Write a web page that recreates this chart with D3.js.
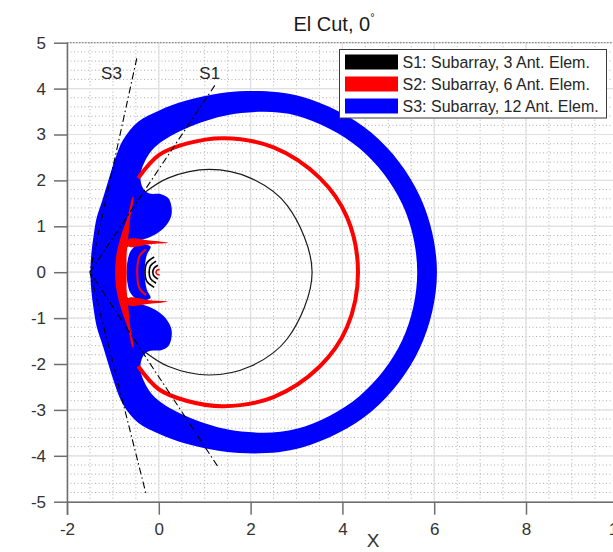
<!DOCTYPE html>
<html>
<head>
<meta charset="utf-8">
<script src="https://cdn.jsdelivr.net/npm/d3@7"></script>
<style>
  html, body { margin: 0; padding: 0; background: #fff; }
  svg { display: block; font-family: "Liberation Sans", Arial, Helvetica, sans-serif; }
</style>
</head>
<body>
<svg id="chart" width="613" height="552"></svg>
<script>
// ---- axis ticks and labels ----
const xTickValues = [-2, 0, 2, 4, 6, 8, 10];
const yTickValues = [-5, -4, -3, -2, -1, 0, 1, 2, 3, 4, 5];
const titleText = "El Cut, 0";
const xLabelText = "X";

// ---- series ----
const seriesNames = ["S1: Subarray, 3 Ant. Elem.", "S2: Subarray, 6 Ant. Elem.", "S3: Subarray, 12 Ant. Elem."];
const seriesColors = ["#000000", "#ff0000", "#0000ff"];

// S3 (12 elements): outer edge of the filled pattern band
const s3Outer = [[6.06,0],[5.68,1.67],[4.64,3.03],[3.12,3.82],[1.76,3.94],[0.60,3.74],[0.0,3.52],[-0.45,3.28],
  [-0.78,2.88],[-0.96,2.44],[-1.10,2.00],[-1.23,1.57],[-1.35,1.20],[-1.42,0.80],[-1.47,0.40],[-1.49,0],
  [-1.47,-0.40],[-1.42,-0.80],[-1.35,-1.20],[-1.23,-1.57],[-1.10,-2.00],[-0.96,-2.44],[-0.78,-2.88],[-0.45,-3.28],
  [0.0,-3.52],[0.60,-3.74],[1.76,-3.94],[3.12,-3.82],[4.64,-3.03],[5.68,-1.67]];
// S3: inner edge of the band (open area inside the main lobe)
const s3Inner = [[5.63,0],[5.30,1.49],[4.37,2.70],[3.01,3.41],[1.80,3.47],[0.80,3.22],[0.0,2.80],[-0.26,2.50],
  [-0.40,2.12],[-0.35,1.84],[-0.22,1.72],[0.05,1.70],[0.20,1.62],[0.27,1.46],[0.27,1.22],[0.10,0.95],
  [-0.20,0.76],[-0.50,0.66],[-0.72,0.50],[-0.78,0],[-0.72,-0.50],[-0.50,-0.66],[-0.20,-0.76],[0.10,-0.95],
  [0.27,-1.22],[0.27,-1.46],[0.20,-1.62],[0.05,-1.70],[-0.22,-1.72],[-0.35,-1.84],[-0.40,-2.12],[-0.26,-2.50],
  [0.0,-2.80],[0.80,-3.22],[1.80,-3.47],[3.01,-3.41],[4.37,-2.70],[5.30,-1.49]];
// S3: inner side lobe between the S2 arms
const s3Lobe = [[-0.45,0.60],[-0.62,0.45],[-0.70,0],[-0.62,-0.45],[-0.45,-0.60],[-0.18,-0.56],[-0.26,-0.38],
  [-0.31,0],[-0.26,0.38],[-0.18,0.56]];

// S2 (6 elements)
const s2Main = [[-0.45,2.05],[0.0,2.55],[0.6,2.80],[1.42,2.92],[2.5,2.72],[3.5,2.06],[4.1,1.2],[4.34,0],
  [4.1,-1.2],[3.5,-2.06],[2.5,-2.72],[1.42,-2.92],[0.6,-2.80],[0.0,-2.55],[-0.45,-2.05]];
const s2Side = [[-0.57,1.64],[-0.68,1.20],[-0.82,0.80],[-0.92,0.40],[-0.95,0],[-0.92,-0.40],[-0.82,-0.80],
  [-0.68,-1.20],[-0.57,-1.64],[-0.55,-1.64],[-0.62,-1.20],[-0.66,-0.80],[-0.70,-0.40],[-0.70,0],[-0.70,0.40],
  [-0.66,0.80],[-0.62,1.20],[-0.55,1.64]];
const s2ArmUp = [[-0.66,0.72],[-0.20,0.69],[0.20,0.64],[-0.20,0.61],[-0.66,0.56]];
const s2ArmDown = [[-0.66,-0.72],[-0.20,-0.69],[0.20,-0.64],[-0.20,-0.61],[-0.66,-0.56]];
const s2Inner = [[-0.28,0.50],[-0.42,0.35],[-0.47,0],[-0.42,-0.35],[-0.28,-0.50]];
const s2Core = [[0.02,0.06],[-0.04,0.045],[-0.06,0],[-0.04,-0.045],[0.02,-0.06]];

// S1 (3 elements)
const s1Main = [[-0.30,1.74],[0.2,2.05],[1.1,2.24],[2.0,2.05],[2.8,1.45],[3.34,0],
  [2.8,-1.45],[2.0,-2.05],[1.1,-2.24],[0.2,-2.05],[-0.30,-1.74]];
const s1Arc1 = [[-0.10,0.33],[-0.26,0.20],[-0.30,0],[-0.26,-0.20],[-0.10,-0.33]];
const s1Arc2 = [[-0.06,0.24],[-0.18,0.14],[-0.21,0],[-0.18,-0.14],[-0.06,-0.24]];
const s1Arc3 = [[-0.02,0.15],[-0.10,0.09],[-0.13,0],[-0.10,-0.09],[-0.02,-0.15]];

// sector boundary lines (upper end, apex, lower end)
const s1Edges = [[1.22,4.07],[-1.5,0],[1.31,-4.27]];
const s3Edges = [[-0.48,4.66],[-1.5,0],[-0.27,-4.86]];
const edgeLabels = [{text:"S3", x:-1.03, y:4.32}, {text:"S1", x:1.11, y:4.32}];

// ---- layout ----
const svg = d3.select("#chart");
const x = d3.scaleLinear().domain([-2, 10]).range([67, 617.8]);
const y = d3.scaleLinear().domain([-5, 5]).range([501.7, 42.7]);
const pLeft = x(-2), pRight = 640, pTop = y(5), pBottom = y(-5);

svg.append("defs").append("clipPath").attr("id", "plotclip")
  .append("rect").attr("x", pLeft).attr("y", pTop).attr("width", pRight - pLeft).attr("height", pBottom - pTop);

// grid: minor dotted, major light solid
const grid = svg.append("g");
const xMinor = d3.range(-2, 12.01, 0.5), yMinor = d3.range(-5, 5.001, 0.2);
grid.selectAll(".xm").data(xMinor).join("line")
  .attr("x1", d => x(d)).attr("x2", d => x(d)).attr("y1", pTop).attr("y2", pBottom)
  .attr("stroke", "#adadad").attr("stroke-width", 1).attr("stroke-dasharray", "1,2.5");
grid.selectAll(".ym").data(yMinor).join("line")
  .attr("x1", pLeft).attr("x2", pRight).attr("y1", d => y(d)).attr("y2", d => y(d))
  .attr("stroke", "#adadad").attr("stroke-width", 1).attr("stroke-dasharray", "1,2.5");
grid.selectAll(".xM").data(d3.range(-2, 12.01, 2)).join("line")
  .attr("x1", d => x(d)).attr("x2", d => x(d)).attr("y1", pTop).attr("y2", pBottom)
  .attr("stroke", "#e0e0e0").attr("stroke-width", 1.2);
grid.selectAll(".yM").data(yTickValues).join("line")
  .attr("x1", pLeft).attr("x2", pRight).attr("y1", d => y(d)).attr("y2", d => y(d))
  .attr("stroke", "#e0e0e0").attr("stroke-width", 1.2);
// top edge
grid.append("line").attr("x1", pLeft).attr("x2", pRight).attr("y1", pTop).attr("y2", pTop)
  .attr("stroke", "#8a8a8a").attr("stroke-width", 1.2).attr("stroke-dasharray", "1.5,1.5");

// ---- pattern marks ----
const plot = svg.append("g").attr("clip-path", "url(#plotclip)");
const closed = d3.line().x(d => x(d[0])).y(d => y(d[1])).curve(d3.curveCatmullRomClosed.alpha(0.5));
const open = d3.line().x(d => x(d[0])).y(d => y(d[1])).curve(d3.curveCatmullRom.alpha(0.5));

// S3
plot.append("path").attr("d", closed(s3Outer) + closed(s3Inner))
  .attr("fill", seriesColors[2]).attr("fill-rule", "evenodd");
plot.append("path").attr("d", closed(s3Lobe)).attr("fill", seriesColors[2]);

// S2
plot.append("path").attr("d", open(s2Main)).attr("fill", "none").attr("stroke", seriesColors[1]).attr("stroke-width", 4);
[s2Side, s2ArmUp, s2ArmDown].forEach(p =>
  plot.append("path").attr("d", closed(p)).attr("fill", seriesColors[1]));
plot.append("path").attr("d", open(s2Inner)).attr("fill", "none").attr("stroke", seriesColors[1]).attr("stroke-width", 2);
plot.append("path").attr("d", open(s2Core)).attr("fill", "none").attr("stroke", seriesColors[1]).attr("stroke-width", 1.5);

// S1
plot.append("path").attr("d", open(s1Main)).attr("fill", "none").attr("stroke", "#1a1a1a").attr("stroke-width", 1.2);
[s1Arc1, s1Arc2, s1Arc3].forEach(p =>
  plot.append("path").attr("d", open(p)).attr("fill", "none").attr("stroke", "#000").attr("stroke-width", 1.6));

// sector edges
const straight = d3.line().x(d => x(d[0])).y(d => y(d[1]));
[s1Edges, s3Edges].forEach(p =>
  plot.append("path").attr("d", straight(p)).attr("fill", "none").attr("stroke", "#000")
    .attr("stroke-width", 1.1).attr("stroke-dasharray", "7,3,1.5,3"));
svg.selectAll(".elab").data(edgeLabels).join("text")
  .attr("x", d => x(d.x)).attr("y", d => y(d.y)).attr("text-anchor", "middle").attr("dominant-baseline", "central")
  .attr("font-size", 17).attr("fill", "#262626").text(d => d.text);

// ---- axes ----
const axisColor = "#6e6e6e", textColor = "#333";
const gx = svg.append("g").attr("transform", `translate(0,${pBottom})`)
  .call(d3.axisBottom(x).tickValues(xTickValues).tickFormat(d => String(d))
    .tickSizeInner(13).tickSizeOuter(0).tickPadding(8));
const gy = svg.append("g").attr("transform", `translate(${pLeft},0)`)
  .call(d3.axisLeft(y).tickValues(yTickValues).tickFormat(d => String(d))
    .tickSizeInner(13).tickSizeOuter(0).tickPadding(8));
[gx, gy].forEach(g => {
  g.select(".domain").attr("stroke", axisColor).attr("stroke-width", 1.5);
  g.selectAll(".tick line").attr("stroke", axisColor).attr("stroke-width", 1.5);
  g.selectAll(".tick text").attr("fill", textColor).attr("font-size", 17)
    .attr("font-family", "Liberation Sans, Arial, sans-serif");
});
gx.select(".domain").attr("d", `M${pLeft},0.5H${pRight}`);
gy.select(".domain").attr("d", `M0.5,${pTop}V${pBottom + 13}`);

svg.append("text").attr("x", 373).attr("y", 547).attr("text-anchor", "middle")
  .attr("font-size", 19).attr("fill", textColor).text(xLabelText);

const title = svg.append("text").attr("x", 334).attr("y", 31).attr("text-anchor", "middle")
  .attr("font-size", 20).attr("fill", "#1a1a1a");
title.append("tspan").text(titleText);
title.append("tspan").attr("font-size", 11).attr("dy", -10).text("°");

// ---- legend ----
const lg = svg.append("g");
lg.append("rect").attr("x", 339.5).attr("y", 49.5).attr("width", 267).attr("height", 68.5)
  .attr("fill", "#fff").attr("stroke", "#3a3a3a").attr("stroke-width", 1);
const rows = lg.selectAll(".row").data(seriesNames).join("g")
  .attr("transform", (d, i) => `translate(0,${62 + i * 22})`);
rows.append("rect").attr("x", 345).attr("y", -7.5).attr("width", 53).attr("height", 15)
  .attr("fill", (d, i) => seriesColors[i]);
rows.append("text").attr("x", 402.5).attr("y", 0).attr("dominant-baseline", "central")
  .attr("font-size", 16).attr("fill", "#262626").text(d => d);
</script>
</body>
</html>
